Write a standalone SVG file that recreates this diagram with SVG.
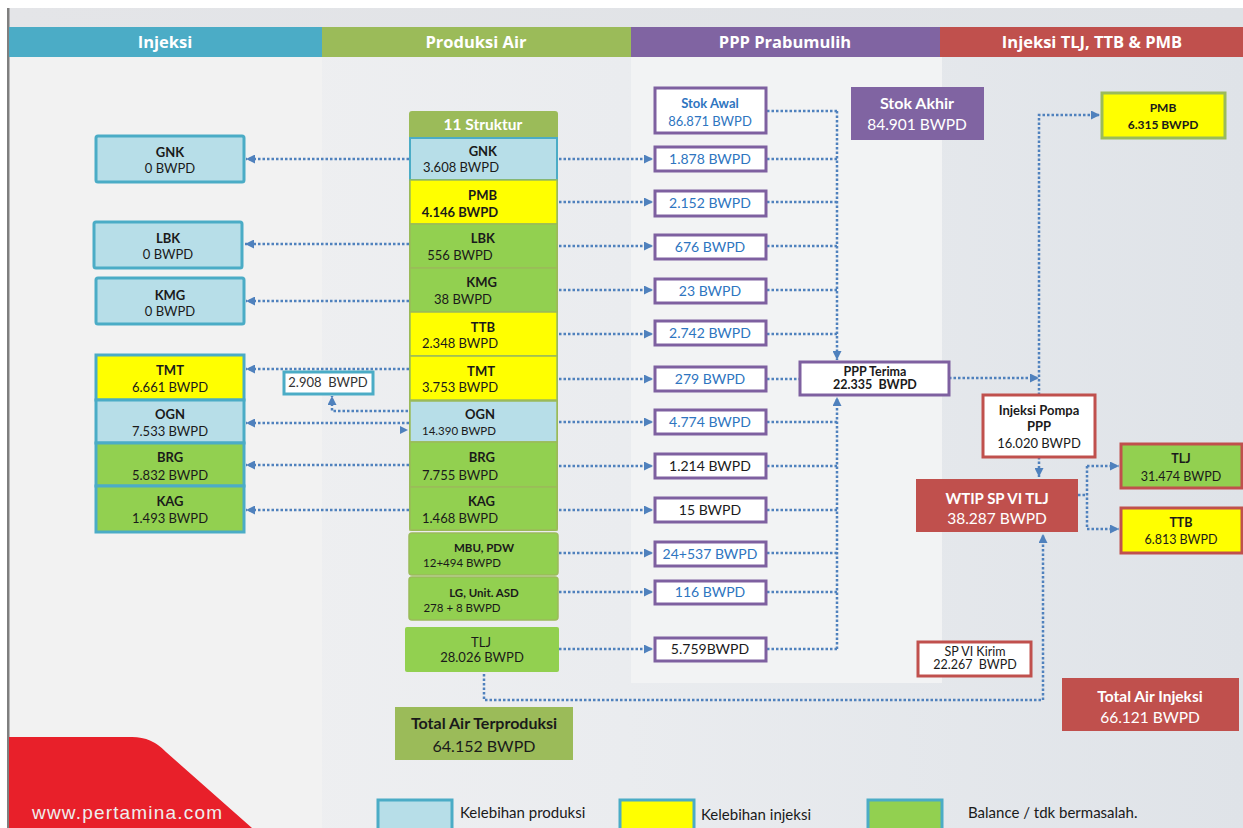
<svg xmlns="http://www.w3.org/2000/svg" width="1243" height="828" viewBox="0 0 1243 828">
<defs>
<linearGradient id="bg" x1="0" y1="0" x2="1" y2="0">
<stop offset="0" stop-color="#f1f1f2"/><stop offset="0.5" stop-color="#eaecef"/><stop offset="1" stop-color="#dfe3e8"/>
</linearGradient>
<linearGradient id="top" x1="0" y1="0" x2="1" y2="0">
<stop offset="0" stop-color="#e4e5e8"/><stop offset="1" stop-color="#dfe2e6"/>
</linearGradient>
<marker id="ah" markerUnits="userSpaceOnUse" markerWidth="9" markerHeight="9" refX="9" refY="4.5" orient="auto">
<path d="M0,0 L9,4.5 L0,9 Z" fill="#4F81BD"/>
</marker>
<style>
.hd{font-family:"Open Sans","Liberation Sans",sans-serif;font-weight:700;font-size:16.5px;fill:#fff;text-anchor:middle}
.t{font-family:Lato,"Liberation Sans",sans-serif;font-size:13px;fill:#1a1a1a;text-anchor:middle;white-space:pre}
.b{font-weight:700}
.bl{fill:#2E75C0}
.w{fill:#fff}
.big{font-size:15.5px}
.f16{font-size:16px}
.f14{font-size:14px}
.f12{font-size:12px}
.f125{font-size:12.5px}
.sm{font-size:11.5px}
.lg{font-family:Lato,"Liberation Sans",sans-serif;font-size:15px;fill:#1a1a1a}
.tl{stroke:#4BACC6;stroke-width:3}
.pu{fill:#fff;stroke:#7E60A0;stroke-width:3}
.rd{stroke:#C0504D;stroke-width:3}
.cl{stroke:#9BBB59;stroke-width:1.5}
.lb{fill:#B7DEE8}.ye{fill:#FFFF00}.gr{fill:#92D050}
.c{fill:none;stroke:#4F81BD;stroke-width:2.5;stroke-dasharray:2.5 2}
.ca{marker-end:url(#ah)}
</style>
</defs>

<g id="background">
<rect x="0" y="0" width="1243" height="828" fill="#ffffff"/>
<rect x="9" y="8" width="1234" height="820" fill="url(#bg)"/>
<rect x="9" y="8" width="1234" height="20" fill="url(#top)"/>
<rect x="9" y="57" width="313" height="771" fill="#f2f2f2"/>
<rect x="631" y="57" width="311" height="626" fill="#f2f3f4"/>
<rect x="7" y="8" width="2.5" height="820" fill="#7f7f7f"/>
<path d="M9,737 L132,737 Q152,737 166,752 L252,828 L9,828 Z" fill="#E8202A"/>
<text x="32" y="819" font-family="Liberation Sans, sans-serif" font-size="19" fill="#eeeeee" textLength="190">www.pertamina.com</text>
</g>

<g id="headers">
<rect x="9" y="27" width="313" height="30" fill="#4BACC6"/>
<rect x="322" y="27" width="309" height="30" fill="#9BBB59"/>
<rect x="631" y="27" width="309" height="30" fill="#8064A2"/>
<rect x="940" y="27" width="303" height="30" fill="#C0504D"/>
<text class="hd" x="165" y="48">Injeksi</text>
<text class="hd" x="476" y="48">Produksi Air</text>
<text class="hd" x="785" y="48">PPP Prabumulih</text>
<text class="hd" x="1092" y="48">Injeksi TLJ, TTB &amp; PMB</text>
</g>

<g id="connectors">
<path class="c ca" d="M409,159 H246"/>
<path class="c ca" d="M409,244 H245"/>
<path class="c ca" d="M409,301 H246"/>
<path class="c ca" d="M409,369 H246"/>
<path class="c ca" d="M409,423 H246"/>
<path class="c ca" d="M409,465 H246"/>
<path class="c ca" d="M409,510 H246"/>
<path class="c ca" d="M408,411 H332 V396"/>
<polygon points="400,426 408,430 400,434" fill="#4F81BD"/>
<path class="c ca" d="M559,159 H653"/>
<path class="c ca" d="M559,202 H653"/>
<path class="c ca" d="M559,246 H653"/>
<path class="c ca" d="M559,290 H653"/>
<path class="c ca" d="M559,334 H653"/>
<path class="c ca" d="M559,379 H653"/>
<path class="c ca" d="M559,422 H653"/>
<path class="c ca" d="M559,466 H653"/>
<path class="c ca" d="M559,510 H653"/>
<path class="c ca" d="M559,553 H653"/>
<path class="c ca" d="M559,592 H653"/>
<path class="c ca" d="M559,649 H653"/>
<path class="c" d="M767,111 H837 M767,159 H837 M767,202 H837 M767,246 H837 M767,290 H837 M767,334 H837 M767,379 H800 M767,422 H837 M767,466 H837 M767,510 H837 M767,553 H837 M767,592 H837 M767,649 H837"/>
<path class="c ca" d="M837,111 V360"/>
<path class="c ca" d="M837,649 V397"/>
<path class="c ca" d="M949,378 H1039"/>
<path class="c ca" d="M1039,395 V115 H1100"/>
<path class="c ca" d="M1039,457 V477"/>
<path class="c" d="M1078,495 H1087 M1087,466 V529"/>
<path class="c ca" d="M1087,466 H1119"/>
<path class="c ca" d="M1087,529 H1119"/>
<path class="c ca" d="M484,674 V700 H1043 V534"/>
</g>

<g id="inj-GNK">
<rect class="tl lb" x="96" y="136" width="148" height="46" rx="2"/>
<text class="t b" x="170" y="157">GNK</text><text class="t" x="170" y="173">0 BWPD</text>
</g>
<g id="inj-LBK">
<rect class="tl lb" x="94" y="222" width="148" height="46" rx="2"/>
<text class="t b" x="168" y="243">LBK</text><text class="t" x="168" y="259">0 BWPD</text>
</g>
<g id="inj-KMG">
<rect class="tl lb" x="96" y="278" width="148" height="46" rx="2"/>
<text class="t b" x="170" y="300">KMG</text><text class="t" x="170" y="316">0 BWPD</text>
</g>
<g id="inj-TMT">
<rect class="tl ye" x="96" y="355" width="148" height="45"/>
<text class="t b" x="170" y="375">TMT</text><text class="t" x="170" y="392">6.661 BWPD</text>
</g>
<g id="inj-OGN">
<rect class="tl lb" x="96" y="400" width="148" height="43"/>
<text class="t b" x="170" y="419">OGN</text><text class="t" x="170" y="436">7.533 BWPD</text>
</g>
<g id="inj-BRG">
<rect class="tl gr" x="96" y="443" width="148" height="43"/>
<text class="t b" x="170" y="462">BRG</text><text class="t" x="170" y="480">5.832 BWPD</text>
</g>
<g id="inj-KAG">
<rect class="tl gr" x="96" y="486" width="148" height="46"/>
<text class="t b" x="170" y="506">KAG</text><text class="t" x="170" y="523">1.493 BWPD</text>
</g>
<g id="n-2908">
<rect class="tl" fill="#fff" x="284" y="372" width="89" height="22"/>
<text class="t" x="328" y="387" style="fill:#333">2.908  BWPD</text>
</g>

<g id="struktur">
<rect x="409" y="111" width="149" height="420" rx="3" fill="#9BBB59"/>
<text class="t b w" x="483" y="130" style="font-size:15.5px">11 Struktur</text>
<rect class="lb" x="410" y="138" width="147" height="42" stroke="#4BACC6" stroke-width="2"/>
<text class="t b" x="497" y="156" style="text-anchor:end">GNK</text><text class="t" x="461" y="172">3.608 BWPD</text>
<rect class="ye cl" x="410" y="180" width="147" height="44"/>
<text class="t b" x="497" y="200" style="text-anchor:end">PMB</text><text class="t b" x="460" y="217">4.146 BWPD</text>
<rect class="gr cl" x="410" y="224" width="147" height="44"/>
<text class="t b" x="495" y="243" style="text-anchor:end">LBK</text><text class="t" x="460" y="260">556 BWPD</text>
<rect class="gr cl" x="410" y="268" width="147" height="44"/>
<text class="t b" x="497" y="287" style="text-anchor:end">KMG</text><text class="t" x="463" y="304">38 BWPD</text>
<rect class="ye cl" x="410" y="312" width="147" height="44"/>
<text class="t b" x="495" y="332" style="text-anchor:end">TTB</text><text class="t" x="460" y="348">2.348 BWPD</text>
<rect class="ye cl" x="410" y="356" width="147" height="44"/>
<text class="t b" x="495" y="376" style="text-anchor:end">TMT</text><text class="t" x="460" y="392">3.753 BWPD</text>
<rect class="lb cl" x="410" y="401" width="147" height="41"/>
<text class="t b" x="495" y="419" style="text-anchor:end">OGN</text><text class="t sm" x="459" y="435">14.390 BWPD</text>
<rect class="gr cl" x="410" y="442" width="147" height="45"/>
<text class="t b" x="495" y="462" style="text-anchor:end">BRG</text><text class="t" x="460" y="480">7.755 BWPD</text>
<rect class="gr cl" x="410" y="487" width="147" height="43"/>
<text class="t b" x="495" y="506" style="text-anchor:end">KAG</text><text class="t" x="460" y="523">1.468 BWPD</text>
</g>
<g id="s-MBU">
<rect class="gr cl" x="409" y="533" width="149" height="42" rx="3"/>
<text class="t b sm" x="484" y="552">MBU, PDW</text><text class="t sm" x="462" y="567">12+494 BWPD</text>
</g>
<g id="s-LG">
<rect class="gr cl" x="409" y="577" width="149" height="43" rx="3"/>
<text class="t b sm" x="484" y="597">LG, Unit. ASD</text><text class="t sm" x="462" y="612">278 + 8 BWPD</text>
</g>
<g id="s-TLJ">
<rect class="gr" x="405" y="627" width="154" height="45" rx="2"/>
<text class="t" x="481" y="647">TLJ</text><text class="t" x="482" y="662">28.026 BWPD</text>
</g>
<g id="total-prod">
<rect x="395" y="707" width="178" height="53" fill="#9BBB59"/>
<text class="t b f16" x="484" y="729">Total Air Terproduksi</text>
<text class="t f16" x="484" y="752">64.152 BWPD</text>
</g>

<g id="p-stokawal"><rect class="pu" x="655" y="88" width="111" height="45"/>
<text class="t b bl" x="710" y="108">Stok Awal</text><text class="t bl" x="710" y="126">86.871 BWPD</text></g>
<g id="p-1"><rect class="pu" x="655" y="147" width="111" height="24"/><text class="t bl f14" x="710" y="164">1.878 BWPD</text></g>
<g id="p-2"><rect class="pu" x="655" y="191" width="111" height="25"/><text class="t bl f14" x="710" y="208">2.152 BWPD</text></g>
<g id="p-3"><rect class="pu" x="655" y="235" width="111" height="24"/><text class="t bl f14" x="710" y="252">676 BWPD</text></g>
<g id="p-4"><rect class="pu" x="655" y="279" width="111" height="24"/><text class="t bl f14" x="710" y="296">23 BWPD</text></g>
<g id="p-5"><rect class="pu" x="655" y="321" width="111" height="24"/><text class="t bl f14" x="710" y="338">2.742 BWPD</text></g>
<g id="p-6"><rect class="pu" x="655" y="367" width="111" height="24"/><text class="t bl f14" x="710" y="384">279 BWPD</text></g>
<g id="p-7"><rect class="pu" x="655" y="410" width="111" height="24"/><text class="t bl f14" x="710" y="427">4.774 BWPD</text></g>
<g id="p-8"><rect class="pu" x="655" y="454" width="111" height="24"/><text class="t f14" x="710" y="471">1.214 BWPD</text></g>
<g id="p-9"><rect class="pu" x="655" y="498" width="111" height="24"/><text class="t f14" x="710" y="515">15 BWPD</text></g>
<g id="p-10"><rect class="pu" x="655" y="542" width="111" height="24"/><text class="t bl f14" x="710" y="559">24+537 BWPD</text></g>
<g id="p-11"><rect class="pu" x="655" y="581" width="111" height="23"/><text class="t bl f14" x="710" y="597">116 BWPD</text></g>
<g id="p-12"><rect class="pu" x="655" y="638" width="111" height="23"/><text class="t f14" x="710" y="654">5.759BWPD</text></g>

<g id="stok-akhir"><rect x="851" y="87" width="133" height="53" fill="#8064A2"/>
<text class="t b w f16" x="917" y="109">Stok Akhir</text><text class="t w big" x="917" y="130">84.901 BWPD</text></g>
<g id="ppp-terima"><rect class="pu" x="800" y="362" width="149" height="33"/>
<text class="t b f125" x="875" y="376">PPP Terima</text><text class="t b f125" x="875" y="389">22.335  BWPD</text></g>

<g id="r-PMB"><rect x="1102" y="93" width="123" height="45" fill="#FFFF00" stroke="#9BBB59" stroke-width="3"/>
<text class="t b f12" x="1163" y="112">PMB</text><text class="t b f12" x="1163" y="129">6.315 BWPD</text></g>
<g id="r-pompa"><rect class="rd" fill="#fff" x="983" y="395" width="112" height="62"/>
<text class="t b" x="1039" y="415">Injeksi Pompa</text><text class="t b" x="1039" y="431">PPP</text><text class="t" x="1039" y="448">16.020 BWPD</text></g>
<g id="r-WTIP"><rect x="916" y="479" width="162" height="53" fill="#C0504D"/>
<text class="t b w" x="997" y="504" style="font-size:15px">WTIP SP VI TLJ</text><text class="t w big" x="997" y="524">38.287 BWPD</text></g>
<g id="r-TLJ"><rect class="rd gr" x="1121" y="444" width="121" height="44"/>
<text class="t b f125" x="1181" y="463">TLJ</text><text class="t f125" x="1181" y="481">31.474 BWPD</text></g>
<g id="r-TTB"><rect class="rd ye" x="1121" y="508" width="121" height="45"/>
<text class="t b f125" x="1181" y="527">TTB</text><text class="t f125" x="1181" y="544">6.813 BWPD</text></g>
<g id="r-kirim"><rect class="rd" fill="#fff" x="918" y="642" width="113" height="34"/>
<text class="t f125" x="975" y="656">SP VI Kirim</text><text class="t f125" x="975" y="669">22.267  BWPD</text></g>
<g id="total-inj"><rect x="1062" y="678" width="177" height="53" fill="#C0504D"/>
<text class="t b w big" x="1150" y="702">Total Air Injeksi</text><text class="t w big" x="1150" y="723">66.121 BWPD</text></g>

<g id="legend">
<rect class="tl lb" x="378" y="800" width="74" height="32"/>
<text class="lg" x="460" y="818">Kelebihan produksi</text>
<rect class="tl ye" x="620" y="800" width="74" height="32"/>
<text class="lg" x="701" y="820">Kelebihan injeksi</text>
<rect class="tl gr" x="868" y="800" width="74" height="32"/>
<text class="lg" x="968" y="818">Balance / tdk bermasalah.</text>
</g>
</svg>
